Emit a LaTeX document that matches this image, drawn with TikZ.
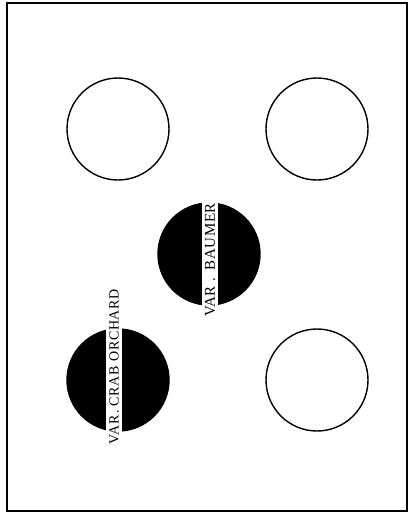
\documentclass[tikz,border=0pt]{standalone}
\usepackage{fontspec}
\newfontfamily\tagfont[LetterSpace=4]{Liberation Serif}
\tikzset{
  hole/.style={circle, draw, line width=1.4pt, minimum size=102pt, inner sep=0pt},
  filled/.style={hole, fill=black},
  tag/.style={fill=white, rotate=90, inner xsep=1pt, inner ysep=0pt,
    minimum height=16pt, font=\tagfont\fontsize{15}{15}\selectfont}
}
\begin{document}
\begin{tikzpicture}[x=1pt, y=-1pt]
\useasboundingbox (0,0) rectangle (410,515);
\draw[line width=1.6pt] (7,3) rectangle (407,511);
\node[hole] (topleft) at (118,129) {};
\node[hole] (topright) at (317,129) {};
\node[filled] (baumer) at (209,254) {};
\node[filled] (crab) at (118,380) {};
\node[hole] (bottomright) at (317,380) {};
\node[tag] (baumertag) at (210,260) {VAR\hspace{5pt}.\hspace{7pt}BAUMER};
\node[tag, font=\tagfont\fontsize{14}{14}\selectfont] (crabtag) at (114,367)
  {VAR\hspace{2pt}.\hspace{4pt}CRAB\hspace{5pt}ORCHARD};
\end{tikzpicture}
\end{document}
